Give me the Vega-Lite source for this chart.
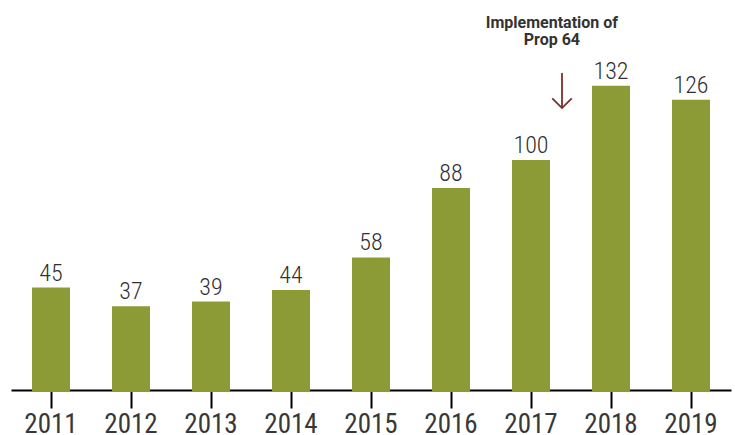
{
  "$schema": "https://vega.github.io/schema/vega-lite/v6.json",
  "width": 720,
  "height": 392,
  "autosize": {"type": "none"},
  "padding": {"left": 11, "top": 0, "right": 4, "bottom": 43},
  "background": "white",
  "config": {"view": {"stroke": null}},
  "datasets": {
    "bars": [
      {"year": "2011", "value": 45},
      {"year": "2012", "value": 37},
      {"year": "2013", "value": 39},
      {"year": "2014", "value": 44},
      {"year": "2015", "value": 58},
      {"year": "2016", "value": 88},
      {"year": "2017", "value": 100},
      {"year": "2018", "value": 132},
      {"year": "2019", "value": 126}
    ],
    "note": [
      {"year": "2017", "label": "Implementation of\nProp 64", "ty": 158.9, "top": 137.5, "bottom": 122.4}
    ]
  },
  "layer": [
    {
      "data": {"name": "bars"},
      "mark": {"type": "bar", "color": "#8d9b37"},
      "encoding": {
        "x": {
          "field": "year", "type": "nominal", "sort": null,
          "scale": {"paddingInner": 0.525, "paddingOuter": 0.2625},
          "axis": {
            "title": null, "labelAngle": 0, "domainColor": "#000", "domainWidth": 2,
            "offset": -2,
            "tickColor": "#000", "tickWidth": 2, "tickSize": 18, "labelPadding": 24,
            "labelBaseline": "alphabetic",
            "labelFont": "Roboto Condensed, Liberation Sans Narrow, DejaVu Sans Condensed, Roboto",
            "labelFontSize": 27, "labelFontWeight": "normal", "labelColor": "#383838"
          }
        },
        "y": {
          "field": "value", "type": "quantitative",
          "scale": {"domain": [0, 169], "nice": false},
          "axis": null
        }
      }
    },
    {
      "data": {"name": "bars"},
      "mark": {"type": "text", "baseline": "alphabetic", "dy": -7,
               "font": "Roboto Condensed, Liberation Sans Narrow, DejaVu Sans Condensed, Roboto",
               "fontSize": 24, "fontWeight": 300, "color": "#303030"},
      "encoding": {
        "x": {"field": "year", "type": "nominal", "sort": null},
        "y": {"field": "value", "type": "quantitative"},
        "text": {"field": "value", "type": "quantitative"}
      }
    },
    {
      "data": {"name": "note"},
      "mark": {"type": "text", "baseline": "middle", "align": "center", "lineBreak": "\n",
               "font": "Roboto", "fontWeight": "bold", "fontSize": 16, "lineHeight": 17, "color": "#333"},
      "encoding": {
        "x": {"field": "year", "type": "nominal", "sort": null, "bandPosition": 1.05},
        "y": {"field": "ty", "type": "quantitative"},
        "text": {"field": "label"}
      }
    },
    {
      "data": {"name": "note"},
      "mark": {"type": "rule", "color": "#7b2e2e", "strokeWidth": 1.8},
      "encoding": {
        "x": {"field": "year", "type": "nominal", "sort": null, "bandPosition": 1.316},
        "y": {"field": "top", "type": "quantitative"},
        "y2": {"field": "bottom"}
      }
    },
    {
      "data": {"name": "note"},
      "mark": {"type": "point", "shape": "M-1,-1L0,0L1,-1", "filled": false, "size": 380,
               "stroke": "#7b2e2e", "strokeWidth": 1.8, "opacity": 1},
      "encoding": {
        "x": {"field": "year", "type": "nominal", "sort": null, "bandPosition": 1.316},
        "y": {"field": "bottom", "type": "quantitative"}
      }
    }
  ]
}
